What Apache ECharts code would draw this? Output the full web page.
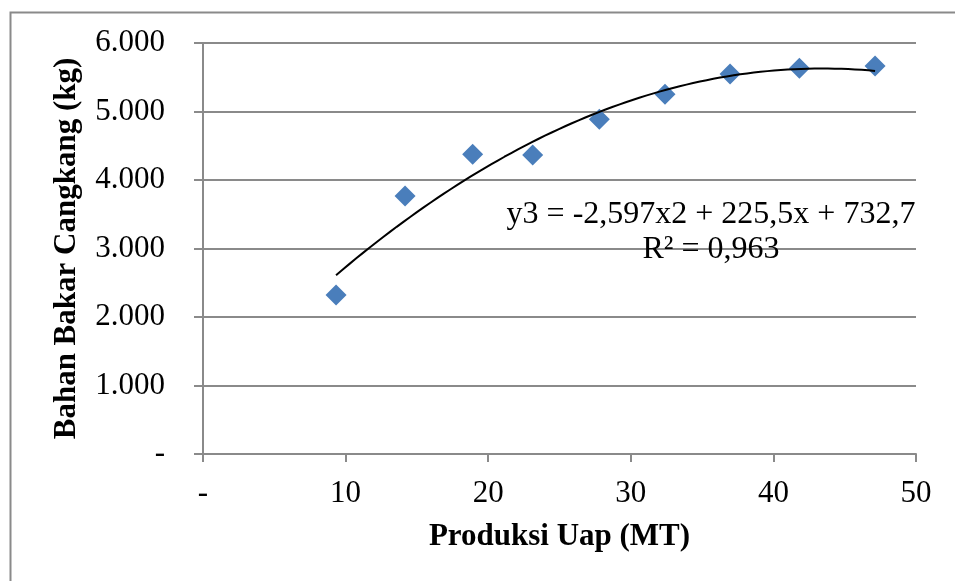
<!DOCTYPE html>
<html>
<head>
<meta charset="utf-8">
<script src="https://cdn.jsdelivr.net/npm/echarts@6/dist/echarts.min.js"></script>
<style>html,body{margin:0;padding:0;background:#fff}#c{width:955px;height:581px}</style>
</head>
<body>
<div id="c"></div>
<script>
// Data
var produksiUap = [9.33, 14.17, 18.91, 23.12, 27.79, 32.40, 36.96, 41.82, 47.13];
var bahanBakar = [2321, 3766, 4375, 4365, 4886, 5251, 5547, 5631, 5664];
var trendCoef = [-2.597, 225.5, 732.7]; // y = a x^2 + b x + c
var equationText = 'y3 = -2,597x2 + 225,5x + 732,7';
var r2Text = 'R² = 0,963';
var xTitle = 'Produksi Uap (MT)';
var yTitle = 'Bahan Bakar Cangkang (kg)';

var scatterData = produksiUap.map(function (x, i) { return [x, bahanBakar[i]]; });
var xmin = Math.min.apply(null, produksiUap), xmax = Math.max.apply(null, produksiUap);
var trend = [];
for (var k = 0; k <= 80; k++) {
  var x = xmin + (xmax - xmin) * k / 80;
  trend.push([x, trendCoef[0] * x * x + trendCoef[1] * x + trendCoef[2]]);
}

var FONT = '"Liberation Serif", "Times New Roman", serif';
var GRAY = '#8a8a8a';
var chart = echarts.init(document.getElementById('c'), null, { renderer: 'canvas' });
chart.setOption({
  animation: false,
  grid: { left: 203, right: 39, top: 43, bottom: 127, containLabel: false },
  xAxis: {
    type: 'value', min: 0, max: 50, interval: 10,
    name: xTitle, nameLocation: 'middle', nameGap: 67,
    nameTextStyle: { fontFamily: FONT, fontSize: 31, fontWeight: 'bold', color: '#000' },
    axisLine: { show: true, onZero: false, lineStyle: { color: GRAY, width: 2 } },
    axisTick: { show: true, length: 8, lineStyle: { color: GRAY, width: 2 } },
    axisLabel: { fontFamily: FONT, fontSize: 31, color: '#000', margin: 24,
      formatter: function (v) { return v === 0 ? '-' : String(v); } },
    splitLine: { show: false }
  },
  yAxis: {
    type: 'value', min: 0, max: 6000, interval: 1000,
    name: yTitle, nameLocation: 'middle', nameGap: 121, nameRotate: 90,
    nameTextStyle: { fontFamily: FONT, fontSize: 31, fontWeight: 'bold', color: '#000' },
    axisLine: { show: true, lineStyle: { color: GRAY, width: 2 } },
    axisTick: { show: true, length: 9, lineStyle: { color: GRAY, width: 2 } },
    axisLabel: { fontFamily: FONT, fontSize: 31, color: '#000', margin: 38,
      formatter: function (v) { return v === 0 ? '-' : (v / 1000).toFixed(3); } },
    splitLine: { show: true, lineStyle: { color: GRAY, width: 2 } }
  },
  series: [
    {
      type: 'line', data: trend, showSymbol: false, smooth: false,
      lineStyle: { color: '#000', width: 2 }, z: 3, silent: true
    },
    {
      type: 'scatter', data: scatterData, symbol: 'diamond', symbolSize: [21, 21],
      itemStyle: { color: '#4a7ebb', opacity: 1 }, z: 2
    }
  ],
  graphic: [
    { type: 'rect', shape: { x: 10.5, y: 12.5, width: 1000, height: 1000 },
      style: { fill: null, stroke: GRAY, lineWidth: 2 }, silent: true, z: -1 },
    { type: 'text', x: 711, y: 215, style: { text: equationText, font: '32px ' + FONT,
      fill: '#000', textAlign: 'center', textVerticalAlign: 'middle' }, z: 10 },
    { type: 'text', x: 711, y: 250, style: { text: r2Text, font: '32px ' + FONT,
      fill: '#000', textAlign: 'center', textVerticalAlign: 'middle' }, z: 10 }
  ]
});
</script>
</body>
</html>
